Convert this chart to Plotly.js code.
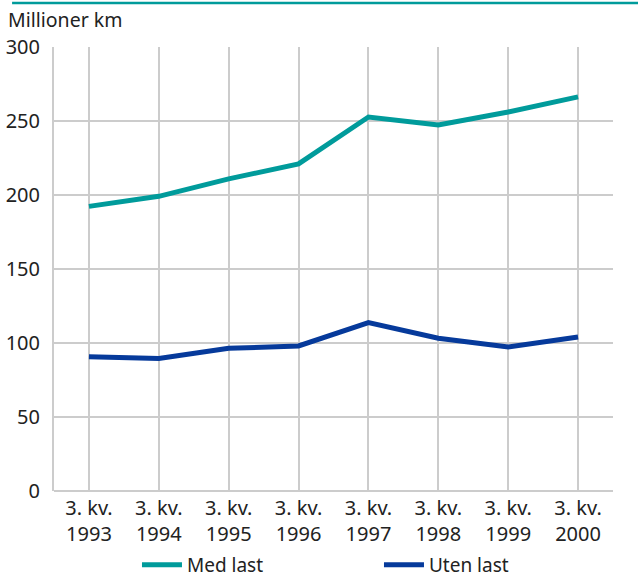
<!DOCTYPE html>
<html>
<head>
<meta charset="utf-8">
<script src="https://cdn.plot.ly/plotly-3.0.1.min.js"></script>
<style>html,body{margin:0;padding:0;background:#fff;}#chart{width:638px;height:578px;}</style>
</head>
<body>
<div id="chart"></div>
<script>
var categories = ["3. kv.<br>1993","3. kv.<br>1994","3. kv.<br>1995","3. kv.<br>1996","3. kv.<br>1997","3. kv.<br>1998","3. kv.<br>1999","3. kv.<br>2000"];
var medLast = [192.3, 199.1, 210.9, 221.0, 252.7, 247.3, 256.1, 266.3];
var utenLast = [90.7, 89.6, 96.4, 98.0, 113.8, 103.2, 97.3, 104.1];
var seriesNames = ["Med last", "Uten last"];
var yTicks = [0, 50, 100, 150, 200, 250, 300];

var font = "Noto Sans, Open Sans, sans-serif";
var traces = [
  {x: categories, y: medLast, name: seriesNames[0], type: "scatter", mode: "lines",
   line: {color: "#009b9b", width: 5}},
  {x: categories, y: utenLast, name: seriesNames[1], type: "scatter", mode: "lines",
   line: {color: "#063a9b", width: 5}}
];
var layout = {
  width: 638, height: 578,
  margin: {l: 54, r: 25, t: 47, b: 87},
  paper_bgcolor: "#fff", plot_bgcolor: "#fff",
  font: {family: font, size: 20, color: "#222"},
  showlegend: true,
  legend: {orientation: "h", xref: "container", yref: "container",
           x: 0.2147, xanchor: "left", y: 0.0225, yanchor: "middle",
           itemwidth: 40, entrywidth: 187, entrywidthmode: "pixels",
           font: {family: font, size: 19, color: "#222"}},
  xaxis: {type: "category", range: [-0.5, 7.5], showgrid: true, gridcolor: "#cccccc", gridwidth: 2,
          showline: false, ticks: "", ticklabelstandoff: 3,
          tickfont: {family: font, size: 20, color: "#222"}, fixedrange: true},
  yaxis: {range: [0, 300], tickvals: yTicks, showgrid: true, gridcolor: "#cccccc", gridwidth: 2,
          zeroline: true, zerolinecolor: "#cccccc", zerolinewidth: 2,
          showline: true, linecolor: "#cccccc", linewidth: 2, ticks: "", ticklabelstandoff: 8,
          tickfont: {family: font, size: 20, color: "#222"}, fixedrange: true},
  annotations: [{text: "Millioner km", xref: "paper", yref: "paper", x: -0.0858, y: 1.061,
                 xanchor: "left", yanchor: "middle", showarrow: false,
                 font: {family: font, size: 19.5, color: "#222"}}],
  shapes: [{type: "line", xref: "paper", yref: "paper", x0: -0.075, x1: 1.045, y0: 1.099, y1: 1.099,
            line: {color: "#009b9b", width: 2.5}}]
};
Plotly.newPlot("chart", traces, layout, {displayModeBar: false, staticPlot: true});
</script>
</body>
</html>
